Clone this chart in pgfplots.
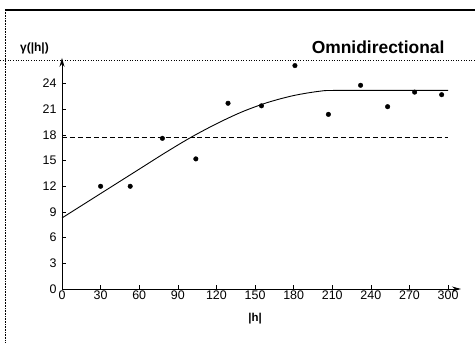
\documentclass[border=0pt]{standalone}
\usepackage{fontspec}
\setmainfont{Liberation Sans}
\usepackage{pgfplots}
\pgfplotsset{compat=1.18}
\usetikzlibrary{arrows.meta}

% experimental semivariogram (omnidirectional)
\pgfplotstableread{
h    g
30   12.0
53   12.0
78   17.6
104  15.2
129  21.7
155  21.4
181  26.1
207  20.4
232  23.8
253  21.3
274  23.0
295  22.7
}\experimental

% fitted model: nugget plus spherical structure
\pgfplotstableread{
h    g
0    8.3
20   10.2
40   12.1
60   14.0
80   15.9
100  17.7
120  19.3
140  20.7
160  21.8
180  22.6
200  23.1
215  23.2
300  23.2
}\model

\begin{document}
\begin{tikzpicture}
\useasboundingbox (-62bp,-54bp) rectangle (413bp,289bp);
% page frame
\draw[line width=1.6pt] (-57bp,279bp) -- (413bp,279bp);
\draw[densely dotted, line width=0.6pt] (-57bp,279bp) -- (-57bp,-54bp);
\draw[dotted, line width=0.6pt] (-62bp,229bp) -- (413bp,229bp);
\begin{axis}[
  anchor=origin, at={(0,0)},
  x=1.287bp, y=8.56bp,
  xmin=0, xmax=310, ymin=0, ymax=27,
  axis lines=left,
  axis line style={line width=0.8pt},
  x axis line style={-{Stealth[length=9pt,width=5pt]}},
  y axis line style={-{Stealth[length=9pt,width=5pt]}},
  xtick={0,30,...,300},
  ytick={0,3,...,24},
  tick align=inside,
  major tick length=4bp,
  tick style={line width=0.5pt, black},
  /pgf/number format/assume math mode=true,
  tick label style={font=\fontsize{12.5}{13}\selectfont},
  xticklabel style={yshift=2bp},
  yticklabel style={xshift=-2bp},
  xlabel={\textbf{|h|}},
  xlabel style={at={(axis description cs:0.4839,0)}, anchor=center, yshift=-30bp, font=\fontsize{11.5}{12}\selectfont},
  clip=false,
]
\addplot[black, line width=0.9pt, dash pattern=on 5pt off 3pt] coordinates {(0,17.7) (300,17.7)};
\addplot[black, line width=0.9pt, smooth, tension=0.5] table[x=h, y=g] {\model};
\addplot[only marks, mark=*, mark size=2.3pt, black] table[x=h, y=g] {\experimental};
\end{axis}
\node[anchor=base east, font=\bfseries\fontsize{17.5}{18}\selectfont] at (386bp,235bp) {Omnidirectional};
\node[anchor=base west, inner sep=0pt, font=\bfseries\fontsize{12}{13}\selectfont] at (-42bp,237bp) {γ(|h|)};
\end{tikzpicture}
\end{document}
